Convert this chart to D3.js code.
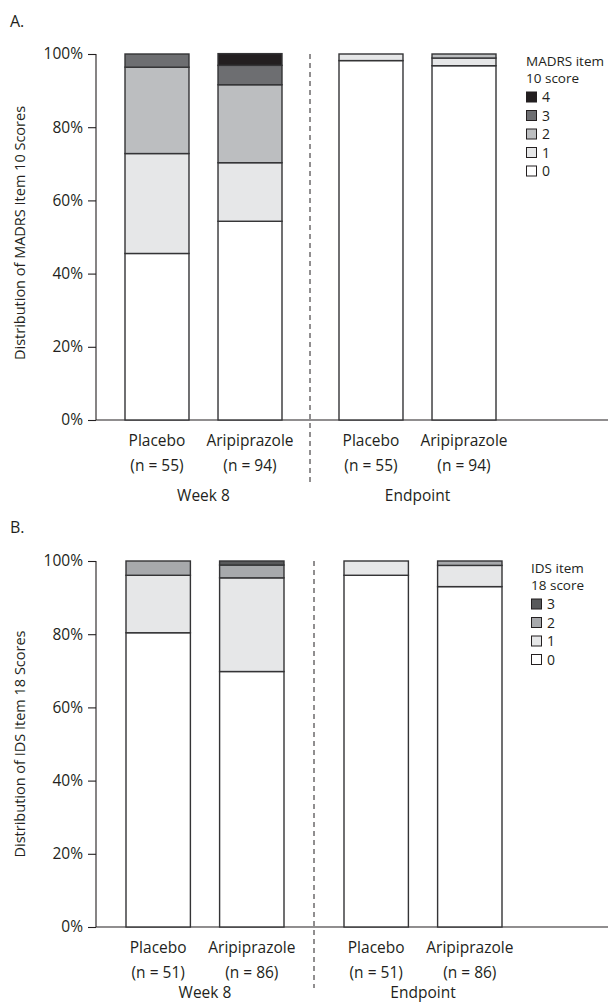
<!DOCTYPE html>
<html>
<head>
<meta charset="utf-8">
<script src="https://cdn.jsdelivr.net/npm/d3@7"></script>
<style>
  body { margin: 0; background: #fff; }
  svg { display: block; font-family: "Open Sans", sans-serif; }
</style>
</head>
<body>
<div id="chart"></div>
<script>
// ---- data (percent of patients per score) ----
const groups = ["Week 8", "Endpoint"];
const arms = ["Placebo", "Aripiprazole"];

const madrsScores = ["0", "1", "2", "3", "4"];
const madrsN = { "Placebo": 55, "Aripiprazole": 94 };
const madrsWeek8Placebo = [45.5, 27.3, 23.6, 3.6, 0];
const madrsWeek8Aripiprazole = [54.3, 16.0, 21.3, 5.3, 3.2];
const madrsEndpointPlacebo = [98.2, 1.8, 0, 0, 0];
const madrsEndpointAripiprazole = [96.8, 2.1, 1.1, 0, 0];

const idsScores = ["0", "1", "2", "3"];
const idsN = { "Placebo": 51, "Aripiprazole": 86 };
const idsWeek8Placebo = [80.4, 15.7, 3.9, 0];
const idsWeek8Aripiprazole = [69.8, 25.6, 3.5, 1.1];
const idsEndpointPlacebo = [96.1, 3.9, 0, 0];
const idsEndpointAripiprazole = [93.0, 5.8, 1.2, 0];

const yTicks = [0, 20, 40, 60, 80, 100];

const W = 608, H = 1003;
const svg = d3.select('#chart').append('svg')
	.attr('width', W)
	.attr('height', H);

const ink = '#231f20';
const fs = 15.5;

const drawPanel = (opt) => {
	const g = svg.append('g');

	const y = d3.scaleLinear().domain([0, 100]).range([opt.bottom, opt.top]);
	const x0 = d3.scaleBand().domain(groups).range([opt.left, opt.left + 2 * opt.groupW]);
	const x1 = d3.scaleBand().domain(arms)
		.range([opt.innerL, opt.innerR])
		.paddingInner(0.312);

	const color = d3.scaleOrdinal().domain(opt.scores).range(opt.colors);

	// rows: one per bar
	const rows = [];
	groups.forEach(gr => arms.forEach(a => {
		const vals = opt.values[gr + '|' + a];
		const row = { group: gr, arm: a };
		opt.scores.forEach((s, i) => row[s] = vals[i]);
		rows.push(row);
	}));
	const series = d3.stack().keys(opt.scores)(rows);

	// panel letter
	g.append('text')
		.attr('x', 10).attr('y', opt.letterY)
		.attr('font-size', 16).attr('fill', ink)
		.text(opt.letter);

	// y axis
	const yAxis = d3.axisLeft(y)
		.tickValues(yTicks)
		.tickFormat(d => d + '%')
		.tickSize(8)
		.tickPadding(5);
	const ya = g.append('g')
		.attr('transform', `translate(${opt.left},0)`)
		.call(yAxis);
	ya.select('.domain').remove();
	ya.selectAll('line').attr('stroke', ink).attr('stroke-width', 1.1);
	ya.selectAll('text').attr('font-size', fs).attr('fill', ink)
		.attr('font-family', '"Open Sans", sans-serif');
	g.append('line')
		.attr('x1', opt.left).attr('x2', opt.left)
		.attr('y1', y(100)).attr('y2', y(0))
		.attr('stroke', ink).attr('stroke-width', 1.1);
	// baseline running to the right edge
	g.append('line')
		.attr('x1', opt.left).attr('x2', W)
		.attr('y1', y(0)).attr('y2', y(0))
		.attr('stroke', ink).attr('stroke-width', 1.1);

	// y label
	g.append('text')
		.attr('transform', `translate(${opt.yLabelX},${opt.yLabelY}) rotate(-90)`)
		.attr('text-anchor', 'middle')
		.attr('font-size', 14.5).attr('fill', ink)
		.text(opt.yLabel);

	// stacked bars
	series.forEach(s => {
		g.append('g')
			.selectAll('rect')
			.data(s.filter(d => d[1] - d[0] > 0))
			.join('rect')
			.attr('x', d => x0(d.data.group) + x1(d.data.arm))
			.attr('width', x1.bandwidth())
			.attr('y', d => y(d[1]))
			.attr('height', d => y(d[0]) - y(d[1]))
			.attr('fill', color(s.key))
			.attr('stroke', '#343436')
			.attr('stroke-width', 1.4);
	});

	// dashed separator
	g.append('line')
		.attr('x1', x0('Endpoint')).attr('x2', x0('Endpoint'))
		.attr('y1', y(100)).attr('y2', opt.dashEnd)
		.attr('stroke', ink).attr('stroke-width', 1)
		.attr('stroke-dasharray', '5,4');

	// category labels
	groups.forEach(gr => {
		arms.forEach(a => {
			const cx = x0(gr) + x1(a) + x1.bandwidth() / 2;
			g.append('text')
				.attr('x', cx).attr('y', opt.armY)
				.attr('text-anchor', 'middle')
				.attr('font-size', fs).attr('fill', ink)
				.text(a);
			g.append('text')
				.attr('x', cx).attr('y', opt.armY + 25)
				.attr('text-anchor', 'middle')
				.attr('font-size', fs).attr('fill', ink)
				.text(`(n = ${opt.n[a]})`);
		});
		g.append('text')
			.attr('x', x0(gr) + (x1.range()[0] + x1.range()[1]) / 2).attr('y', opt.groupY)
			.attr('text-anchor', 'middle')
			.attr('font-size', fs).attr('fill', ink)
			.text(gr);
	});

	// legend
	const lg = g.append('g').attr('transform', `translate(${opt.legendX},${opt.legendY})`);
	opt.legendTitle.forEach((t, i) => {
		lg.append('text').attr('x', 0).attr('y', i * 16.5)
			.attr('font-size', 13.5).attr('fill', ink).text(t);
	});
	const items = opt.scores.slice().reverse();
	items.forEach((s, i) => {
		const cy = 31 + i * 18.5;
		lg.append('rect')
			.attr('x', 0.5).attr('y', cy - 5)
			.attr('width', 10).attr('height', 10)
			.attr('fill', color(s))
			.attr('stroke', ink).attr('stroke-width', 1);
		lg.append('text')
			.attr('x', 16).attr('y', cy + 5)
			.attr('font-size', 14).attr('fill', ink)
			.text(s);
	});
};

drawPanel({
	letter: 'A.', letterY: 27,
	top: 54, bottom: 420, left: 96, groupW: 214, innerL: 29, innerR: 186,
	scores: madrsScores,
	colors: ['#ffffff', '#e6e7e8', '#bcbec0', '#6d6e71', '#231f20'],
	values: {
		'Week 8|Placebo': madrsWeek8Placebo,
		'Week 8|Aripiprazole': madrsWeek8Aripiprazole,
		'Endpoint|Placebo': madrsEndpointPlacebo,
		'Endpoint|Aripiprazole': madrsEndpointAripiprazole
	},
	n: madrsN,
	yLabel: 'Distribution of MADRS Item 10 Scores', yLabelX: 25, yLabelY: 233,
	dashEnd: 482, armY: 446, groupY: 501,
	legendX: 526, legendY: 66,
	legendTitle: ['MADRS item', '10 score']
});

drawPanel({
	letter: 'B.', letterY: 533,
	top: 561, bottom: 927, left: 96, groupW: 218, innerL: 30, innerR: 188,
	scores: idsScores,
	colors: ['#ffffff', '#e6e7e8', '#a7a9ac', '#58595b'],
	values: {
		'Week 8|Placebo': idsWeek8Placebo,
		'Week 8|Aripiprazole': idsWeek8Aripiprazole,
		'Endpoint|Placebo': idsEndpointPlacebo,
		'Endpoint|Aripiprazole': idsEndpointAripiprazole
	},
	n: idsN,
	yLabel: 'Distribution of IDS Item 18 Scores', yLabelX: 25, yLabelY: 744,
	dashEnd: 988, armY: 953, groupY: 998,
	legendX: 531, legendY: 573,
	legendTitle: ['IDS item', '18 score']
});
</script>
</body>
</html>
